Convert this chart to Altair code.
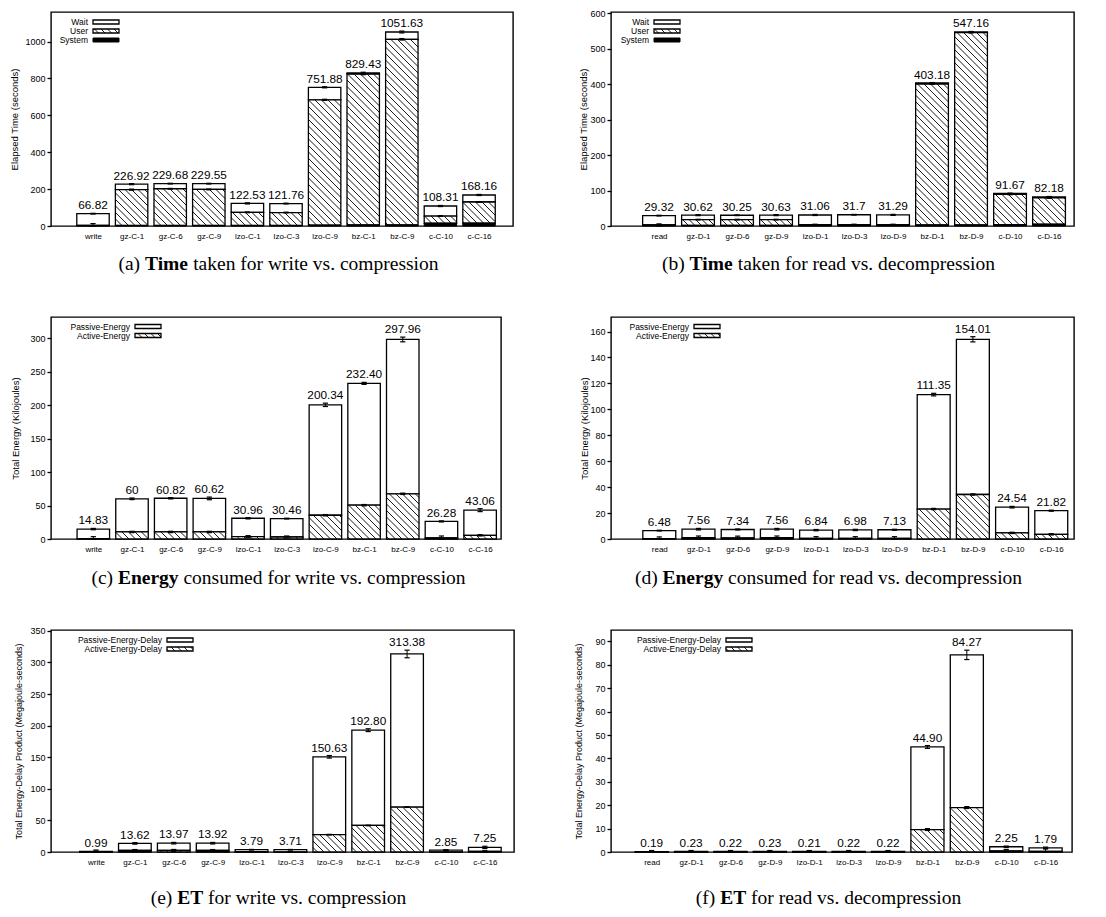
import math
import altair as alt
import pandas as pd

FONT = "Liberation Sans"
SERIF = "Liberation Serif"

# ---------------- data ----------------
cats_write = ["write", "gz-C-1", "gz-C-6", "gz-C-9", "lzo-C-1", "lzo-C-3", "lzo-C-9", "bz-C-1", "bz-C-9", "c-C-10", "c-C-16"]
cats_read = ["read", "gz-D-1", "gz-D-6", "gz-D-9", "lzo-D-1", "lzo-D-3", "lzo-D-9", "bz-D-1", "bz-D-9", "c-D-10", "c-D-16"]

# (a) time, write vs compression (seconds)
a_total = [66.82, 226.92, 229.68, 229.55, 122.53, 121.76, 751.88, 829.43, 1051.63, 108.31, 168.16]
a_labels = ["66.82", "226.92", "229.68", "229.55", "122.53", "121.76", "751.88", "829.43", "1051.63", "108.31", "168.16"]
a_system = [2, 3, 3, 3, 3, 3, 5, 6, 6, 15, 16]
a_user = [1, 194, 199, 195, 71, 70, 679, 817, 1006, 39, 114]
a_err_total = [2, 3, 2, 2, 3, 2, 3, 4, 5, 3, 3]
a_err_user = [10, 3, 2, 2, 2, 2, 3, 3, 4, 2, 2]

# (b) time, read vs decompression (seconds)
b_total = [29.32, 30.62, 30.25, 30.63, 31.06, 31.7, 31.29, 403.18, 547.16, 91.67, 82.18]
b_labels = ["29.32", "30.62", "30.25", "30.63", "31.06", "31.7", "31.29", "403.18", "547.16", "91.67", "82.18"]
b_system = [2, 2, 2, 2, 3, 3, 3, 3, 3, 4, 5]
b_user = [1, 16, 16, 16, 1, 1, 1, 397, 542, 85, 74]
b_err_total = [1, 1.5, 1, 1.5, 1.5, 1, 1.5, 1, 1, 1, 1]
b_err_user = [3, 1, 1, 1, 1, 1, 1, 1, 1, 1, 1]

# (c) energy, write vs compression (kJ)
c_total = [14.83, 60, 60.82, 60.62, 30.96, 30.46, 200.34, 232.40, 297.96, 26.28, 43.06]
c_labels = ["14.83", "60", "60.82", "60.62", "30.96", "30.46", "200.34", "232.40", "297.96", "26.28", "43.06"]
c_active = [0.5, 10.5, 10.5, 10.5, 3.5, 3.0, 35.5, 50.5, 67.5, 1.5, 5.5]
c_err_total = [1, 1.2, 1, 2, 1, 0.6, 2.5, 1.5, 3.5, 0.8, 2.2]
c_err_active = [3, 1, 1, 1, 1.5, 1.5, 1, 1, 1, 3, 1]

# (d) energy, read vs decompression (kJ)
d_total = [6.48, 7.56, 7.34, 7.56, 6.84, 6.98, 7.13, 111.35, 154.01, 24.54, 21.82]
d_labels = ["6.48", "7.56", "7.34", "7.56", "6.84", "6.98", "7.13", "111.35", "154.01", "24.54", "21.82"]
d_active = [0.3, 1.0, 0.9, 1.0, 0.5, 0.5, 0.5, 23.1, 34.3, 4.7, 3.6]
d_err_total = [0.3, 0.6, 0.4, 0.6, 0.5, 0.5, 0.4, 1.0, 2.0, 0.6, 0.4]
d_err_active = [1.3, 1.3, 1.3, 1.3, 1.3, 1.3, 1.3, 0.5, 0.5, 0.5, 0.5]

# (e) energy-delay, write vs compression (MJ*s)
e_total = [0.99, 13.62, 13.97, 13.92, 3.79, 3.71, 150.63, 192.80, 313.38, 2.85, 7.25]
e_labels = ["0.99", "13.62", "13.97", "13.92", "3.79", "3.71", "150.63", "192.80", "313.38", "2.85", "7.25"]
e_active = [0.1, 2.4, 2.5, 2.4, 0.4, 0.3, 27.4, 42.0, 71.0, 0.3, 1.0]
e_err_total = [0.2, 1.2, 1.2, 1.2, 0.3, 0.3, 2.0, 2.2, 6.0, 0.5, 1.8]
e_err_active = [3, 1.5, 1.5, 1.5, 1, 1, 0.5, 0.5, 0.5, 3, 1]

# (f) energy-delay, read vs decompression (MJ*s)
f_total = [0.19, 0.23, 0.22, 0.23, 0.21, 0.22, 0.22, 44.90, 84.27, 2.25, 1.79]
f_labels = ["0.19", "0.23", "0.22", "0.23", "0.21", "0.22", "0.22", "44.90", "84.27", "2.25", "1.79"]
f_active = [0.02, 0.03, 0.03, 0.03, 0.02, 0.02, 0.02, 9.6, 19.0, 0.5, 0.3]
f_err_total = [0.05, 0.05, 0.05, 0.05, 0.05, 0.05, 0.05, 0.6, 2.0, 0.3, 0.3]
f_err_active = [0.6, 0.6, 0.6, 0.6, 0.6, 0.6, 0.6, 0.4, 0.4, 0.6, 1.0]

# ---------------- helpers ----------------
one = pd.DataFrame({"k": [0]})

TR = {' ': .25, '(': .333, ')': .333, 'a': .444, 'b': .5, 'c': .444, 'd': .5, 'e': .444,
      'f': .333, 'i': .278, 'k': .5, 'm': .778, 'n': .5, 'o': .5, 'p': .5, 'r': .333,
      's': .389, 't': .278, 'u': .5, 'v': .5, 'w': .722, '.': .25}
TB = {'T': .667, 'i': .278, 'm': .833, 'e': .444, 'E': .667, 'n': .556, 'r': .444,
      'g': .5, 'y': .5}


def tw(s, table):
    return sum(table.get(ch, 0.5) for ch in s)


def hatch_segments(xl, xr, yb, yt, xmin, kx, ky, step=6.5):
    u0, u1 = (xl - xmin) * kx, (xr - xmin) * kx
    v0, v1 = yb * ky, yt * ky
    out = []
    if v1 - v0 < 1.0 or u1 - u0 < 1.0:
        return out
    c = math.ceil((u0 + v0) / step) * step
    while c < u1 + v1:
        lo = max(u0, c - v1)
        hi = min(u1, c - v0)
        if hi - lo > 0.3:
            out.append((xmin + lo / kx, (c - lo) / ky, xmin + hi / kx, (c - hi) / ky))
        c += step
    return out


def make_panel(cats, labels, total, segments, errbars, err_top, legend_items, cfg, cap):
    W, H = cfg["w"], cfg["h"]
    xmin, xmax, ymax = cfg["xmin"], cfg["xmax"], cfg["ymax"]
    kx = W / (xmax - xmin)
    ky = H / ymax
    n = len(cats)
    half = 0.42
    xsc = alt.Scale(domain=[xmin, xmax], nice=False, zero=False)
    ysc = alt.Scale(domain=[0, ymax], nice=False, zero=False)

    rects = []
    for style, lo, hi in segments:
        for i in range(n):
            rects.append(dict(style=style, x1=i - half, x2=i + half, lo=lo[i], hi=hi[i]))
    ltext = []
    for k, (name, style) in enumerate(legend_items):
        py = cfg["ly"] + k * 9
        xr = cfg["lx"]
        ltext.append(dict(x=xmin + xr / kx, y=(H - py) / ky, t=name))
        rects.append(dict(style=style, x1=xmin + (xr + 5) / kx, x2=xmin + (xr + 31) / kx,
                          lo=(H - py - 2) / ky, hi=(H - py + 2) / ky))
    hatch = []
    for r in rects:
        if r["style"] == "hatch":
            for (xa, ya, xb, yb) in hatch_segments(r["x1"], r["x2"], r["lo"], r["hi"], xmin, kx, ky):
                hatch.append(dict(xa=xa, ya=ya, xb=xb, yb=yb))
    rect_df = pd.DataFrame(rects)
    hatch_df = pd.DataFrame(hatch)
    ltext_df = pd.DataFrame(ltext)

    capw = 2.6 / kx
    errs = []
    for centers, ev in errbars:
        for i in range(n):
            lo = max(0.0, centers[i] - ev[i])
            hi = centers[i] + ev[i]
            errs.append(dict(x=i, lo=lo, hi=hi, cl=i - capw, cr=i + capw))
    err_df = pd.DataFrame(errs)
    lab_df = pd.DataFrame(dict(x=list(range(n)), y=[t + e for t, e in zip(total, err_top)], t=labels))

    label_expr = "[" + ",".join("'%s'" % c for c in cats) + "][datum.value]"
    xaxis = alt.Axis(values=list(range(n)), labelExpr=label_expr, ticks=False, tickSize=0,
                     domain=False, grid=False, labelFontSize=8, labelFont=FONT,
                     labelColor="black", labelPadding=6, labelOverlap=False,
                     labelFlush=False, title="")
    yaxis = alt.Axis(values=cfg["yticks"], format="d", grid=False, domain=False,
                     tickSize=4, tickWidth=1.3, tickColor="black", labelFontSize=9,
                     labelFont=FONT, labelColor="black", labelPadding=2,
                     title=cfg["ytitle"], titleFont=FONT, titleFontSize=cfg["tfs"],
                     titleFontWeight="normal", titleColor="black", titleX=cfg["titlex"],
                     titleAngle=270, titleBaseline="bottom")

    def X(f):
        return alt.X(f, scale=xsc, axis=xaxis)

    def Y(f):
        return alt.Y(f, scale=ysc, axis=yaxis)

    white = alt.Chart(rect_df).transform_filter(alt.datum.style != "black").mark_rect(
        fill="white", stroke="black", strokeWidth=1.3).encode(
        x=X("x1:Q"), x2=alt.X2("x2"), y=Y("lo:Q"), y2=alt.Y2("hi"))
    lines = alt.Chart(hatch_df).mark_rule(color="black", strokeWidth=0.9).encode(
        x=X("xa:Q"), x2=alt.X2("xb"), y=Y("ya:Q"), y2=alt.Y2("yb"))
    layers = [white, lines]
    if (rect_df["style"] == "black").any():
        black = alt.Chart(rect_df).transform_filter(alt.datum.style == "black").mark_rect(
            fill="black", stroke="black", strokeWidth=1).encode(
            x=X("x1:Q"), x2=alt.X2("x2"), y=Y("lo:Q"), y2=alt.Y2("hi"))
        layers.append(black)
    ebar = alt.Chart(err_df).mark_rule(color="black", strokeWidth=1).encode(
        x=X("x:Q"), y=Y("lo:Q"), y2=alt.Y2("hi"))
    ecap_hi = alt.Chart(err_df).mark_rule(color="black", strokeWidth=1.2).encode(
        x=X("cl:Q"), x2=alt.X2("cr"), y=Y("hi:Q"))
    ecap_lo = alt.Chart(err_df).mark_rule(color="black", strokeWidth=1.2).encode(
        x=X("cl:Q"), x2=alt.X2("cr"), y=Y("lo:Q"))
    vlab = alt.Chart(lab_df).mark_text(font=FONT, fontSize=11.8, baseline="alphabetic",
                                       dy=-4, color="black").encode(
        x=X("x:Q"), y=Y("y:Q"), text="t:N")
    leg = alt.Chart(ltext_df).mark_text(font=FONT, fontSize=8.5, align="right",
                                        baseline="middle", color="black").encode(
        x=X("x:Q"), y=Y("y:Q"), text="t:N")
    layers += [ebar, ecap_hi, ecap_lo, vlab, leg]

    tag, bold, rest = cap
    fs = 19.5
    sp = 0.25
    tot = (tw(tag, TR) + sp + tw(bold, TB) + sp + tw(rest, TR)) * fs
    x0 = cfg["cx"] - tot / 2
    x1 = x0 + (tw(tag, TR) + sp) * fs
    x2 = x1 + (tw(bold, TB) + sp) * fs
    cy = cfg["cy"] + 6.5
    for xx, txt, wt in [(x0, tag, "normal"), (x1, bold, "bold"), (x2, rest, "normal")]:
        layers.append(alt.Chart(one).mark_text(font=SERIF, fontSize=fs, fontWeight=wt,
                                               align="left", baseline="alphabetic",
                                               color="black").encode(
            x=alt.value(xx), y=alt.value(cy), text=alt.value(txt)))
    return alt.layer(*layers).properties(width=W, height=H)


def cum(a, b):
    return [x + y for x, y in zip(a, b)]


time_leg = [("Wait", "white"), ("User", "hatch"), ("System", "black")]
en_leg = [("Passive-Energy", "white"), ("Active-Energy", "hatch")]
et_leg = [("Passive-Energy-Delay", "white"), ("Active-Energy-Delay", "hatch")]
zeros = [0] * 11

a_cum = cum(a_system, a_user)
pa = make_panel(cats_write, a_labels, a_total,
                [("white", a_cum, a_total), ("hatch", a_system, a_cum), ("black", zeros, a_system)],
                [(a_total, a_err_total), (a_cum, a_err_user)], a_err_total, time_leg,
                dict(w=462, h=214, xmin=-1.088, xmax=10.88, ymax=1160,
                     yticks=[0, 200, 400, 600, 800, 1000], ytitle="Elapsed Time (seconds)",
                     tfs=9.5, titlex=-31.5, lx=37, ly=10, cx=227.5, cy=251.5),
                ("(a)", "Time", "taken for write vs. compression"))

b_cum = cum(b_system, b_user)
pb = make_panel(cats_read, b_labels, b_total,
                [("white", b_cum, b_total), ("hatch", b_system, b_cum), ("black", zeros, b_system)],
                [(b_total, b_err_total), (b_cum, b_err_user)], b_err_total, time_leg,
                dict(w=463, h=214, xmin=-1.231, xmax=10.64, ymax=603,
                     yticks=[0, 100, 200, 300, 400, 500, 600], ytitle="Elapsed Time (seconds)",
                     tfs=9.5, titlex=-22.5, lx=38, ly=10, cx=217.5, cy=251.5),
                ("(b)", "Time", "taken for read vs. decompression"))

pc = make_panel(cats_write, c_labels, c_total,
                [("white", c_active, c_total), ("hatch", zeros, c_active)],
                [(c_total, c_err_total), (c_active, c_err_active)], c_err_total, en_leg,
                dict(w=450, h=222, xmin=-1.094, xmax=10.54, ymax=331.5,
                     yticks=[0, 50, 100, 150, 200, 250, 300], ytitle="Total Energy (Kilojoules)",
                     tfs=9.5, titlex=-31, lx=79, ly=9.5, cx=227.5, cy=260.6),
                ("(c)", "Energy", "consumed for write vs. compression"))

pd_ = make_panel(cats_read, d_labels, d_total,
                 [("white", d_active, d_total), ("hatch", zeros, d_active)],
                 [(d_total, d_err_total), (d_active, d_err_active)], d_err_total, en_leg,
                 dict(w=463, h=222, xmin=-1.232, xmax=10.58, ymax=171.2,
                      yticks=[0, 20, 40, 60, 80, 100, 120, 140, 160], ytitle="Total Energy (Kilojoules)",
                      tfs=9.5, titlex=-22, lx=78, ly=9.5, cx=217.5, cy=260.6),
                 ("(d)", "Energy", "consumed for read vs. decompression"))

pe = make_panel(cats_write, e_labels, e_total,
                [("white", e_active, e_total), ("hatch", zeros, e_active)],
                [(e_total, e_err_total), (e_active, e_err_active)], e_err_total, et_leg,
                dict(w=463, h=222, xmin=-1.157, xmax=10.75, ymax=351.3,
                     yticks=[0, 50, 100, 150, 200, 250, 300, 350],
                     ytitle="Total Energy-Delay Product (Megajoule-seconds)",
                     tfs=9, titlex=-28, lx=111, ly=10, cx=227.5, cy=267.7),
                ("(e)", "ET", "for write vs. compression"))

pf = make_panel(cats_read, f_labels, f_total,
                [("white", f_active, f_total), ("hatch", zeros, f_active)],
                [(f_total, f_err_total), (f_active, f_err_active)], f_err_total, et_leg,
                dict(w=461, h=222, xmin=-1.033, xmax=10.67, ymax=94.9,
                     yticks=[0, 10, 20, 30, 40, 50, 60, 70, 80, 90],
                     ytitle="Total Energy-Delay Product (Megajoule-seconds)",
                     tfs=9, titlex=-27.5, lx=110, ly=10, cx=217.5, cy=267.7),
                ("(f)", "ET", "for read vs. decompression"))

chart = alt.concat(pa, pb, pc, pd_, pe, pf, columns=2,
                   spacing={"row": 91, "column": 97}, bounds="flush", padding=0
                   ).configure_view(stroke="black", strokeWidth=1.4)

chart.save("out.html", embed_options={"renderer": "svg", "actions": False})
